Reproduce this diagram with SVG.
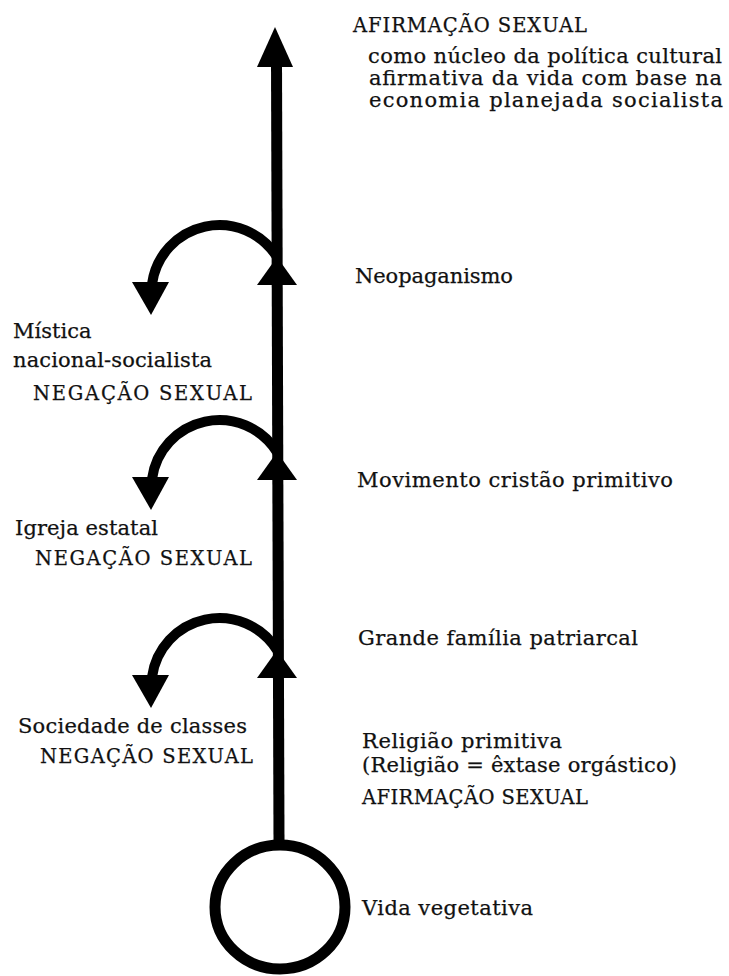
<svg xmlns="http://www.w3.org/2000/svg" width="729" height="976" viewBox="0 0 729 976">
<style>
  .t { font-family: "DejaVu Serif", "Liberation Serif", serif; font-size: 21px; fill: #111; stroke: #111; stroke-width: 0.25; }
  .sc { font-family: "DejaVu Serif", "Liberation Serif", serif; font-size: 19.5px; fill: #111; stroke: #111; stroke-width: 0.25; }
  .ln { fill: none; stroke: #000; stroke-width: 11; }
  .arc { fill: none; stroke: #000; stroke-width: 10; stroke-linecap: butt; }
  .hd { fill: #000; }
</style>
<defs>
  <g id="branch">
    <path class="arc" d="M 277 257 A 68 68 0 0 0 152 284"/>
    <polygon class="hd" points="257,285 297,285 277,257"/>
    <polygon class="hd" points="132,282 169,282 151,315"/>
  </g>
</defs>
<rect width="729" height="976" fill="#fff"/>

<g id="connectors">
  <line class="ln" x1="279" y1="842" x2="276.5" y2="62"/>
  <polygon class="hd" points="257,67 293,67 275,27"/>
  <use href="#branch"/>
  <use href="#branch" transform="translate(0,195)"/>
  <use href="#branch" transform="translate(0,393)"/>
</g>

<g id="node-vida-vegetativa">
  <ellipse cx="280" cy="907" rx="65" ry="62" fill="none" stroke="#000" stroke-width="11"/>
  <text class="t" x="362" y="915" textLength="171" lengthAdjust="spacing">Vida vegetativa</text>
</g>

<g id="node-religiao-primitiva">
  <text class="t" x="362" y="748" textLength="200" lengthAdjust="spacing">Religião primitiva</text>
  <text class="t" x="362" y="772" textLength="315" lengthAdjust="spacing">(Religião = êxtase orgástico)</text>
  <text class="sc" x="362" y="804" textLength="226" lengthAdjust="spacing">AFIRMAÇÃO SEXUAL</text>
</g>

<g id="node-grande-familia">
  <text class="t" x="358" y="645" textLength="280" lengthAdjust="spacing">Grande família patriarcal</text>
</g>

<g id="node-movimento-cristao">
  <text class="t" x="357" y="487" textLength="316" lengthAdjust="spacing">Movimento cristão primitivo</text>
</g>

<g id="node-neopaganismo">
  <text class="t" x="355" y="283" textLength="158" lengthAdjust="spacing">Neopaganismo</text>
</g>

<g id="node-afirmacao-topo">
  <text class="sc" x="353" y="32" textLength="234" lengthAdjust="spacing">AFIRMAÇÃO SEXUAL</text>
  <text class="t" x="368" y="63" textLength="354" lengthAdjust="spacing">como núcleo da política cultural</text>
  <text class="t" x="369" y="85" textLength="353" lengthAdjust="spacing">afirmativa da vida com base na</text>
  <text class="t" x="369" y="107" textLength="354" lengthAdjust="spacing">economia planejada socialista</text>
</g>

<g id="node-sociedade-classes">
  <text class="t" x="18" y="733" textLength="229" lengthAdjust="spacing">Sociedade de classes</text>
  <text class="sc" x="40" y="763" textLength="213" lengthAdjust="spacing">NEGAÇÃO SEXUAL</text>
</g>

<g id="node-igreja-estatal">
  <text class="t" x="15" y="535" textLength="143" lengthAdjust="spacing">Igreja estatal</text>
  <text class="sc" x="35" y="565" textLength="217" lengthAdjust="spacing">NEGAÇÃO SEXUAL</text>
</g>

<g id="node-mistica">
  <text class="t" x="13" y="338">Mística</text>
  <text class="t" x="13" y="367" textLength="199" lengthAdjust="spacing">nacional-socialista</text>
  <text class="sc" x="33" y="400" textLength="219" lengthAdjust="spacing">NEGAÇÃO SEXUAL</text>
</g>
</svg>
